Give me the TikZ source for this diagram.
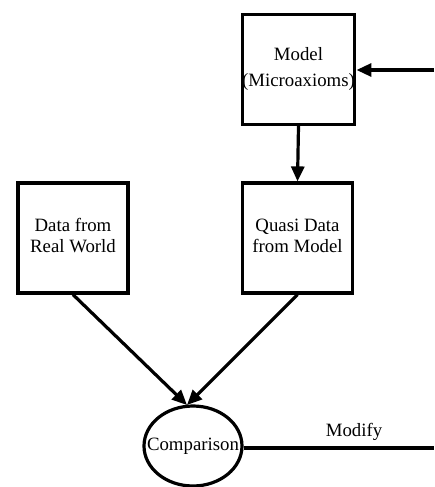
\documentclass[tikz,border=0pt]{standalone}
\usepackage{fontspec}
\setmainfont{Liberation Serif}
\usetikzlibrary{arrows.meta,shapes.geometric}
\begin{document}
\begin{tikzpicture}[x=1pt,y=-1pt,
  every node/.style={font=\fontsize{18.8}{20.5}\selectfont},
  box/.style={draw,line width=3.2pt,minimum width=110pt,minimum height=110pt,inner sep=0pt,align=center},
  conn/.style={line width=3.2pt,-{Triangle[length=15pt,width=13pt]}},
  plain/.style={line width=3.2pt}]
\useasboundingbox (0,0) rectangle (434,487);
\node[box] (model) at (298.5,69.5) {\raisebox{5pt}{\begin{tabular}{@{}c@{}}Model\\[5pt](Microaxioms)\end{tabular}}};
\node[box] (data) at (73,238) {\raisebox{8pt}{\begin{tabular}{@{}c@{}}Data from\\Real World\end{tabular}}};
\node[box] (quasi) at (297.5,238) {\raisebox{8pt}{\begin{tabular}{@{}c@{}}Quasi Data\\from Model\end{tabular}}};
\node[draw,ellipse,line width=3.2pt,minimum width=98pt,minimum height=80pt,inner xsep=-16pt,inner ysep=0pt] (cmp) at (193,446) {Comparison};
\coordinate (in) at (434,70);
\coordinate (out) at (434,448);
\coordinate (meet) at (187,405);
\draw[conn] (in) -- (model.east |- in);
\draw[conn] (model.south) -- (quasi.north);
\draw[conn] (data.south) -- (meet);
\draw[conn] (quasi.south) -- (meet);
\draw[plain] (cmp.east |- out) -- node[pos=0.58,above=3pt] {Modify} (out);
\end{tikzpicture}
\end{document}
